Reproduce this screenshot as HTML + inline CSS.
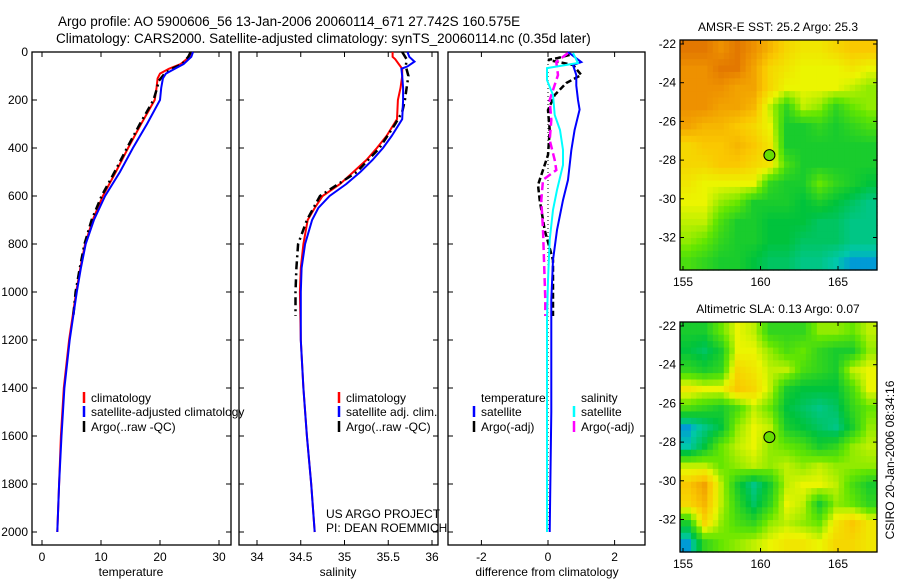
<!DOCTYPE html>
<html><head><meta charset="utf-8"><style>
html,body{margin:0;padding:0;background:#fff;}
svg{display:block;font-family:"Liberation Sans",sans-serif;}
text{fill:#000;}
</style></head><body>
<svg id="fig" width="900" height="580" viewBox="0 0 900 580">
<text x="58" y="26" font-size="13.5">Argo profile: AO 5900606_56 13-Jan-2006 20060114_671 27.742S 160.575E</text>
<text x="56" y="43" font-size="13.5">Climatology: CARS2000. Satellite-adjusted climatology: synTS_20060114.nc (0.35d later)</text>
<g id="plots"></g>
</svg>
<script>
// ---------- data ----------
const depthTicks = [0,200,400,600,800,1000,1200,1400,1600,1800,2000];
const tempTicks = [0,10,20,30];
const salTicks = [34,34.5,35,35.5,36];
const salTickLabels = ["34","34.5","35","35.5","36"];
const diffTicks = [-2,0,2];
const tempClimDepth = [0,20,50,70,90,110,150,200,300,400,500,600,700,800,900,1000,1200,1400,1600,1800,2000];
const tempClimVal   = [25.2,25,23.5,21.5,20,19.6,19.4,19.1,16.8,14.6,12.5,10.3,8.6,7.3,6.5,5.8,4.6,3.7,3.2,2.9,2.6];
const tempSatDepth = [0,20,50,70,90,110,150,200,300,400,500,600,700,800,900,1000,1200,1400,1600,1800,2000];
const tempSatVal   = [25.6,25.3,24,22.5,21,20.5,20.2,20,17.8,15.4,13.2,10.7,8.8,7.4,6.6,5.9,4.7,3.8,3.3,2.9,2.6];
const tempArgoDepth = [0,20,50,70,90,120,150,200,300,400,500,600,700,800,900,1000,1100];
const tempArgoVal   = [25.2,24.8,23.8,22,20.8,19.8,19.5,18.9,16.6,14.4,12.3,10.1,8.4,7.2,6.4,5.7,5.3];
const salClimDepth = [0,20,30,50,70,100,150,200,280,350,400,450,500,550,600,650,700,800,900,1000,1200,1400,1600,1800,2000];
const salClimVal   = [35.55,35.55,35.58,35.62,35.66,35.66,35.64,35.61,35.6,35.48,35.37,35.25,35.1,34.95,34.75,34.66,34.58,34.53,34.5,34.49,34.5,34.53,34.57,34.62,34.66];
const salSatDepth = [0,20,40,60,70,100,150,200,280,350,400,450,500,550,600,650,700,800,900,1000,1200,1400,1600,1800,2000];
const salSatVal   = [35.72,35.74,35.8,35.72,35.65,35.66,35.67,35.67,35.66,35.54,35.44,35.32,35.18,35.02,34.83,34.7,34.63,34.55,34.51,34.5,34.5,34.53,34.57,34.62,34.66];
const salArgoDepth = [0,30,60,100,150,200,250,300,400,500,600,700,800,900,1000,1100];
const salArgoVal   = [35.66,35.71,35.7,35.73,35.71,35.69,35.66,35.58,35.4,35.14,34.72,34.57,34.47,34.45,34.44,34.44];
const dTempSatDepth = [0,42,54,96,140,200,240,325,410,533,617,742,867,1033,1500,2000];
const dTempSatVal   = [0.6,1.0,0.75,0.85,0.85,0.9,0.95,0.8,0.7,0.6,0.45,0.27,0.15,0.1,0.1,0.05];
const dSalSatDepth = [4,46,67,117,179,262,325,408,471,575,658,783,950,1117,1500,2000];
const dSalSatVal   = [0.75,0.9,-0.03,-0.03,0.15,0.2,0.36,0.45,0.45,0.27,0.15,0.05,0,-0.03,-0.03,-0.03];
const dTempArgoDepth = [12,25,33,54,96,129,179,242,325,429,554,617,742,867,1033,1100];
const dTempArgoVal   = [0.65,0.3,0,0.75,1.0,0.55,0.2,0,0.05,0,-0.3,-0.25,-0.1,0.15,0.15,0.15];
const dSalArgoDepth = [4,42,96,200,283,367,450,492,533,617,742,867,1033,1100];
const dSalArgoVal   = [0.6,0.25,0.3,0.05,0.1,0.05,0.2,0.25,-0.15,-0.2,-0.15,-0.12,-0.08,-0.08];
const sstGrid = [
[.95,.95,.9,.95,.9,.8,.7,.65,.65,.7,.75,.75],
[.9,.9,.95,.95,.85,.7,.65,.6,.6,.6,.65,.6],
[.9,.9,.9,.85,.85,.7,.6,.6,.6,.6,.55,.5],
[.9,.9,.85,.85,.8,.55,.35,.55,.5,.35,.45,.5],
[.85,.8,.8,.75,.7,.6,.3,.3,.35,.3,.35,.4],
[.7,.75,.75,.8,.75,.65,.3,.3,.3,.3,.3,.3],
[.7,.7,.75,.75,.7,.65,.4,.3,.3,.3,.3,.3],
[.65,.6,.6,.6,.6,.35,.3,.3,.45,.35,.3,.25],
[.6,.6,.5,.45,.3,.3,.3,.25,.3,.25,.2,.15],
[.55,.55,.4,.3,.3,.25,.25,.25,.2,.2,.15,.15],
[.5,.45,.35,.3,.3,.25,.25,.2,.2,.2,.15,.15],
[.4,.35,.3,.3,.25,.2,.2,.15,.15,.1,.05,.05]];
const slaGrid = [
[.3,.3,.45,.6,.55,.35,.35,.35,.5,.5,.45,.55],
[.25,.2,.3,.6,.6,.5,.4,.45,.35,.3,.3,.5],
[.35,.3,.35,.7,.65,.55,.55,.4,.35,.3,.55,.6],
[.65,.6,.6,.75,.7,.55,.3,.25,.25,.25,.4,.6],
[.4,.35,.3,.4,.55,.45,.25,.2,.15,.2,.35,.45],
[.05,.15,.25,.5,.6,.55,.3,.25,.2,.15,.3,.5],
[.1,.25,.45,.55,.6,.5,.45,.4,.3,.35,.5,.55],
[.55,.55,.45,.5,.55,.5,.55,.5,.55,.5,.5,.5],
[.75,.85,.55,.3,.15,.3,.55,.6,.6,.55,.4,.3],
[.7,.8,.55,.35,.2,.35,.6,.55,.3,.5,.45,.35],
[.3,.7,.5,.4,.35,.5,.55,.5,.45,.65,.75,.65],
[.05,.35,.45,.5,.55,.6,.65,.65,.6,.7,.7,.65]];
const lonTicks = [155,160,165];
const latTicks = [-22,-24,-26,-28,-30,-32];
const floatLon = 160.575, floatLat = -27.742;

// ---------- helpers ----------
const NS="http://www.w3.org/2000/svg";
const root=document.getElementById('plots');
function mk(tag,attrs,parent){const e=document.createElementNS(NS,tag);for(const k in attrs)e.setAttribute(k,attrs[k]);(parent||root).appendChild(e);return e;}
const yD = d => 52 + d*0.24;
const xT = t => 42 + t*5.9;
const xS = s => 257 + (s-34)*87.5;
const xDf = v => 548 + v*33.3;

function frame(x0,x1,y0,y1,name){
  const r=mk('rect',{x:x0,y:y0,width:x1-x0,height:y1-y0,fill:'none',stroke:'#000','stroke-width':1.3});
  
  
}
function yTicks(x0,x1,labels){
  depthTicks.forEach(d=>{
    const y=yD(d);
    mk('line',{x1:x0,x2:x0+5,y1:y,y2:y,stroke:'#000'});
    mk('line',{x1:x1,x2:x1-5,y1:y,y2:y,stroke:'#000'});
    if(labels){const t=mk('text',{x:x0-4,y:y+4,'font-size':12,'text-anchor':'end'});t.textContent=d;
      
      }
  });
}
function xTicks(vals,labels,fx,name){
  vals.forEach((v,i)=>{
    const x=fx(v);
    mk('line',{x1:x,x2:x,y1:545,y2:540,stroke:'#000'});
    mk('line',{x1:x,x2:x,y1:52,y2:57,stroke:'#000'});
    const t=mk('text',{x:x,y:561,'font-size':12,'text-anchor':'middle'});t.textContent=labels[i];
    
    
  });
}
function line(depths,vals,fx,color,w,dash,name){
  const pts=depths.map((d,i)=>fx(vals[i]).toFixed(1)+','+yD(d).toFixed(1)).join(' ');
  const p=mk('polyline',{points:pts,fill:'none',stroke:color,'stroke-width':w,'stroke-dasharray':dash||'none'});
  
  
}
function text(x,y,s,size,name,anchor){
  const t=mk('text',{x:x,y:y,'font-size':size||12,'text-anchor':anchor||'start'});t.textContent=s;
  
  
  return t;
}
function legend(x,y,color,label,name){
  const l=mk('line',{x1:x,x2:x,y1:y-10,y2:y+1,stroke:color,'stroke-width':2.5});
  
  
  text(x+7,y,label,12,name);
}

// ---------- panel 1: temperature ----------
frame(32,231,52,545,'temperature-panel');
yTicks(32,231,true);
xTicks(tempTicks,tempTicks.map(String),xT,'temperature-tick-label');
line(tempClimDepth,tempClimVal,xT,'#ff0000',2,null,'temperature-climatology-line');
line(tempArgoDepth,tempArgoVal,xT,'#000',2.5,'8,4,2,4','temperature-argo-line');
line(tempSatDepth,tempSatVal,xT,'#0000ff',2,null,'temperature-satellite-line');
text(131,576,'temperature',12,'temperature-axis-title','middle');
legend(84,402,'#ff0000','climatology','legend-temp-climatology');
legend(84,416,'#0000ff','satellite-adjusted climatology','legend-temp-satellite');
legend(84,431,'#000','Argo(..raw -QC)','legend-temp-argo');

// ---------- panel 2: salinity ----------
frame(239,438,52,545,'salinity-panel');
yTicks(239,438,false);
xTicks(salTicks,salTickLabels,xS,'salinity-tick-label');
line(salClimDepth,salClimVal,xS,'#ff0000',2,null,'salinity-climatology-line');
line(salArgoDepth,salArgoVal,xS,'#000',2.5,'8,4,2,4','salinity-argo-line');
line(salSatDepth,salSatVal,xS,'#0000ff',2,null,'salinity-satellite-line');
text(338,576,'salinity',12,'salinity-axis-title','middle');
legend(339,402,'#ff0000','climatology','legend-sal-climatology');
legend(339,416,'#0000ff','satellite adj. clim.','legend-sal-satellite');
legend(339,431,'#000','Argo(..raw -QC)','legend-sal-argo');
text(326,518,'US ARGO PROJECT',12,'project-label');
text(326,532,'PI: DEAN ROEMMICH',12,'pi-label');

// ---------- panel 3: differences ----------
frame(448,645,52,545,'difference-panel');
yTicks(448,645,false);
xTicks(diffTicks,diffTicks.map(v=>v===-2?'-2':String(v)),xDf,'difference-tick-label');
mk('line',{x1:xDf(0),x2:xDf(0),y1:yD(0),y2:yD(2000),stroke:'#000','stroke-dasharray':'1,3'});
line(dTempArgoDepth,dTempArgoVal,xDf,'#000',2.5,'6,3','temp-argo-diff-line');
line(dSalArgoDepth,dSalArgoVal,xDf,'#ff00ff',2.5,'8,4','sal-argo-diff-line');
line(dTempSatDepth,dTempSatVal,xDf,'#0000ff',2,null,'temp-satellite-diff-line');
line(dSalSatDepth,dSalSatVal,xDf,'#00ffff',2,null,'sal-satellite-diff-line');
text(547,576,'difference from climatology',12,'difference-axis-title','middle');
text(481,402,'temperature',12,'legend-temperature-heading');
text(581,402,'salinity',12,'legend-salinity-heading');
legend(474,416,'#0000ff','satellite','legend-diff-temp-satellite');
legend(474,431,'#000','Argo(-adj)','legend-diff-temp-argo');
legend(574,416,'#00ffff','satellite','legend-diff-sal-satellite');
legend(574,431,'#ff00ff','Argo(-adj)','legend-diff-sal-argo');

// ---------- maps ----------
const stops=[[0,[0,110,255]],[0.1,[0,200,170]],[0.25,[0,195,60]],[0.45,[100,230,0]],[0.6,[235,245,0]],[0.75,[250,200,0]],[0.9,[238,145,0]],[1,[215,95,0]]];
function cmap(v){
  for(let i=1;i<stops.length;i++){ if(v<=stops[i][0]){const a=stops[i-1],b=stops[i];const f=(v-a[0])/(b[0]-a[0]);
    const c=a[1].map((q,k)=>Math.round(q+(b[1][k]-q)*f));return 'rgb('+c.join(',')+')';}}
  return 'rgb(215,95,0)';
}
function sample(grid,r,c){ // bilinear sample at fractional cell coords
  const R=grid.length-1,C=grid[0].length-1;
  r=Math.max(0,Math.min(R,r));c=Math.max(0,Math.min(C,c));
  const r0=Math.floor(r),c0=Math.floor(c),r1=Math.min(R,r0+1),c1=Math.min(C,c0+1);
  const fr=r-r0,fc=c-c0;
  return grid[r0][c0]*(1-fr)*(1-fc)+grid[r0][c1]*(1-fr)*fc+grid[r1][c0]*fr*(1-fc)+grid[r1][c1]*fr*fc;
}
function map(y0,grid,title,name){
  const x0=680,x1=877,y1=y0+230;
  const lonX=l=>683+(l-155)*15.5;
  const latY=l=>y0+4+(-22-l)*19.35;
  const rows=grid.length, cols=grid[0].length, up=3;
  const cw=(x1-x0)/(cols*up), ch=(y1-y0)/(rows*up);
  for(let r=0;r<rows*up;r++)for(let c=0;c<cols*up;c++){
    const v=sample(grid,(r+0.5)/up-0.5,(c+0.5)/up-0.5);
    const cell=mk('rect',{x:(x0+c*cw).toFixed(2),y:(y0+r*ch).toFixed(2),width:(cw+0.6).toFixed(2),height:(ch+0.6).toFixed(2),fill:cmap(v)});
    
    
  }
  frame(x0,x1,y0,y1,name+'-frame');
  latTicks.forEach(l=>{const y=latY(l);
    mk('line',{x1:x0,x2:x0+4,y1:y,y2:y,stroke:'#000'});mk('line',{x1:x1,x2:x1-4,y1:y,y2:y,stroke:'#000'});
    text(x0-4,y+4,String(l),12,name+'-lat-label','end');});
  lonTicks.forEach(l=>{const x=lonX(l);
    mk('line',{x1:x,x2:x,y1:y1,y2:y1-4,stroke:'#000'});mk('line',{x1:x,x2:x,y1:y0,y2:y0+4,stroke:'#000'});
    text(x,y1+16,String(l),12,name+'-lon-label','middle');});
  const c=mk('circle',{cx:lonX(floatLon),cy:latY(floatLat),r:5.5,fill:'#66dd00',stroke:'#000','stroke-width':1});
  
  
  text(778,y0-9,title,12,name+'-title','middle');
}
map(40,sstGrid,'AMSR-E SST: 25.2 Argo: 25.3','sst-map');
map(322,slaGrid,'Altimetric SLA: 0.13 Argo: 0.07','sla-map');
const stamp=text(0,0,'CSIRO 20-Jan-2006 08:34:16',12,'timestamp-label','middle');
stamp.setAttribute('transform','translate(894,460) rotate(-90)');
</script>
</body></html>
